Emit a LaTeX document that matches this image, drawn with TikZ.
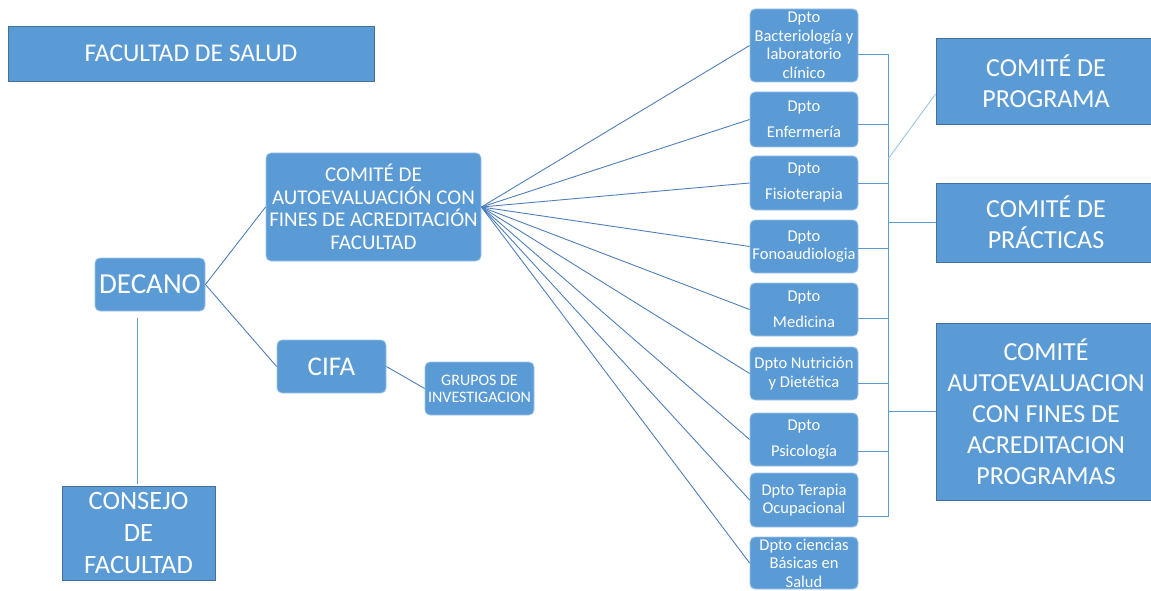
\documentclass[tikz,border=0pt]{standalone}
\usepackage{fontspec}
\setmainfont{Carlito}
\usetikzlibrary{calc}
\definecolor{boxblue}{HTML}{5B9BD5}
\definecolor{edgeblue}{HTML}{41719C}
\definecolor{linkblue}{HTML}{4F7FBB}
\definecolor{rimblue}{HTML}{9DC3E6}
\tikzset{
  box/.style={fill=boxblue, draw=edgeblue, line width=0.8pt, text=white, align=center, inner sep=0pt},
  rbox/.style={box, rounded corners=5pt, draw=rimblue},
  link/.style={draw=linkblue, line width=0.9pt},
  brk/.style={draw=boxblue, line width=0.9pt},
  dept/.style={rbox, minimum width=108pt, font=\fontsize{16.5}{18.5}\selectfont},
  comm/.style={box, minimum width=220pt, font=\fontsize{26}{31}\selectfont}
}
\begin{document}
\begin{tikzpicture}[x=1pt,y=-1pt]
\useasboundingbox (0,0) rectangle (1151,591);
\node[box, minimum width=366pt, minimum height=55pt, font=\fontsize{25.5}{28}\selectfont] (fac) at (191,53.5) {FACULTAD DE SALUD};
\node[rbox, minimum width=215pt, minimum height=108pt, font=\fontsize{21}{22.5}\selectfont] (cafac) at (373.5,207) {COMITÉ DE\\AUTOEVALUACIÓN CON\\FINES DE ACREDITACIÓN\\FACULTAD};
\node[rbox, minimum width=110pt, minimum height=53pt, font=\fontsize{29}{32}\selectfont] (decano) at (150,284.5) {DECANO};
\node[rbox, minimum width=109pt, minimum height=53pt, font=\fontsize{27}{28}\selectfont] (cifa) at (331.5,366.5) {CIFA};
\node[rbox, minimum width=109pt, minimum height=53pt, font=\fontsize{16}{17}\selectfont] (grupos) at (479.5,388.5) {GRUPOS DE\\INVESTIGACION};
\node[box, minimum width=153pt, minimum height=94pt, font=\fontsize{26.5}{32}\selectfont] (consejo) at (138.5,533) {CONSEJO\\DE\\FACULTAD};
% departments
\node[dept, minimum height=73pt] (b1) at (804,45.5) {Dpto\\Bacteriología y\\laboratorio\\clínico};
\node[dept, minimum height=55pt] (b2) at (804,119.5) {Dpto\\[7.5pt]Enfermería};
\node[dept, minimum height=54pt] (b3) at (804,183) {Dpto\\[7.5pt]Fisioterapia};
\node[dept, minimum height=53pt] (b4) at (804,246.5) {Dpto\\Fonoaudiologia};
\node[dept, minimum height=53pt] (b5) at (804,309.5) {Dpto\\[7.5pt]Medicina};
\node[dept, minimum height=53pt] (b6) at (804,373.5) {Dpto Nutrición\\y Dietética};
\node[dept, minimum height=53pt] (b7) at (804,439.5) {Dpto\\[7.5pt]Psicología};
\node[dept, minimum height=54pt] (b8) at (804,500) {Dpto Terapia\\Ocupacional};
\node[dept, minimum height=52pt] (b9) at (804,563) {Dpto ciencias\\Básicas en\\Salud};
% committees
\node[comm, minimum height=86pt] (c1) at (1046,81) {COMITÉ DE\\PROGRAMA};
\node[comm, minimum height=79pt] (c2) at (1046,222.5) {COMITÉ DE\\PRÁCTICAS};
\node[comm, minimum height=177pt] (c3) at (1046,411.5) {COMITÉ\\AUTOEVALUACION\\CON FINES DE\\ACREDITACION\\PROGRAMAS};
% connectors
\draw[link] (decano.east) -- (cafac.west);
\draw[link] (decano.east) -- (cifa.west);
\draw[link] (cifa.east) -- (grupos.west);
\foreach \i in {1,...,9} \draw[link] (cafac.east) -- (b\i.west);
\draw[brk] ($(decano.south -| consejo.north)+(-1.5,7)$) -- ($(consejo.north)+(-1.5,-2)$);
% bracket
\coordinate (bt) at (888,54);
\coordinate (sp) at (888,159);
\draw[brk] ([yshift=-8.5pt]b1.east) -- (bt);
\draw[brk] ([yshift=-4.5pt]b2.east) -| (bt);
\draw[brk] (b3.east) -| (bt);
\draw[brk] ([yshift=-1.5pt]b4.east) -| (bt);
\draw[brk] ([yshift=-8.5pt]b5.east) -| (bt);
\draw[brk] ([yshift=-9.5pt]b6.east) -| (bt);
\draw[brk] ([yshift=-11.5pt]b7.east) -| (bt);
\draw[brk] ([yshift=-16pt]b8.east) -| (bt);
\draw[brk] (c2.west) -- (c2.west -| bt);
\draw[brk] (c3.west) -- (c3.west -| bt);
\draw[brk, draw=rimblue] (sp) -- ([yshift=-13pt]c1.west);
\end{tikzpicture}
\end{document}
